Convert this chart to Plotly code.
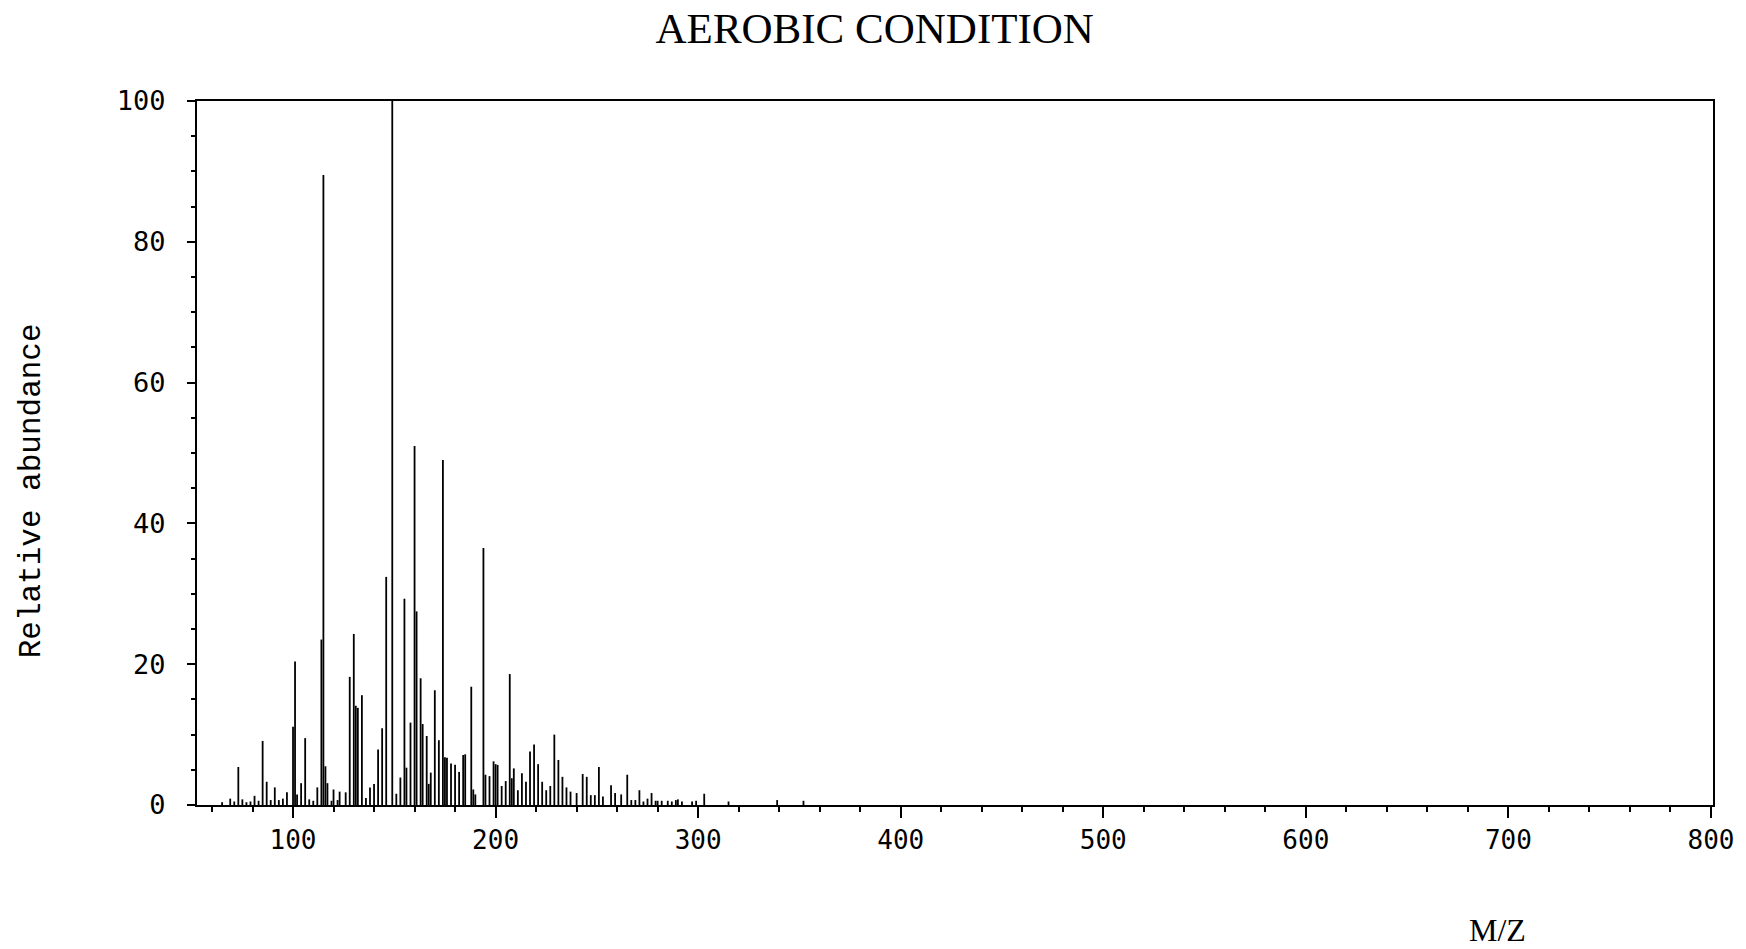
import plotly.graph_objects as go

# ---- data ----
mz = [65, 69, 71, 73, 75, 77, 79, 81, 83, 85, 87, 89, 91, 93, 95, 97,
      100, 101, 102, 104, 106, 108, 110, 112, 114, 115, 116, 117, 119, 120, 122, 123,
      126, 128, 130, 131, 132, 134, 136, 138, 140, 142, 144, 146, 149, 151, 153,
      155, 156, 158, 160, 161, 163, 164, 166, 167, 168, 170, 172, 174, 175, 176,
      178, 180, 182, 184, 185, 188, 189, 190, 194, 195, 197, 199, 200, 201, 203,
      205, 207, 208, 209, 211, 213, 215, 217, 219, 221, 223, 225, 227, 229, 231,
      233, 235, 237, 240, 243, 245, 247, 249, 251, 253, 257, 259, 262, 265, 267,
      269, 271, 273, 275, 277, 279, 280, 282, 285, 287, 289, 290, 292, 297, 299,
      303, 315, 339, 352]
abundance = [0.4, 0.9, 0.5, 5.4, 0.8, 0.4, 0.5, 1.3, 0.6, 9.1, 3.3, 0.7, 2.5, 0.7, 0.9, 1.8,
             11.1, 20.4, 1.5, 3.1, 9.5, 0.8, 0.6, 2.5, 23.5, 89.5, 5.5, 3.1, 0.6, 2.2, 0.7, 1.9,
             1.8, 18.2, 24.3, 14.1, 13.8, 15.6, 1.0, 2.5, 3.0, 7.9, 10.9, 32.4, 100.0, 1.6, 3.9,
             29.3, 5.3, 11.7, 51.0, 27.5, 18.0, 11.5, 9.8, 3.0, 4.6, 16.3, 9.2, 49.0, 6.8, 6.7,
             5.9, 5.7, 4.7, 7.1, 7.2, 16.8, 2.2, 1.5, 36.5, 4.3, 4.1, 6.2, 5.8, 5.7, 2.7,
             3.4, 18.6, 3.8, 5.2, 2.1, 4.5, 3.3, 7.6, 8.6, 5.8, 3.3, 2.1, 2.7, 10.0, 6.4,
             4.0, 2.5, 1.9, 1.7, 4.4, 4.0, 1.4, 1.4, 5.4, 1.2, 2.8, 1.7, 1.5, 4.3, 0.7,
             0.7, 2.1, 0.5, 0.9, 1.7, 0.6, 0.6, 0.6, 0.6, 0.5, 0.7, 0.8, 0.5, 0.5, 0.6,
             1.6, 0.5, 0.7, 0.6]

x_ticks = [100, 200, 300, 400, 500, 600, 700, 800]
y_ticks = [0, 20, 40, 60, 80, 100]

title_text = "AEROBIC CONDITION"
x_label = "M/Z"
y_label = "Relative abundance"

# ---- build stick spectrum (one segment per peak) ----
xs, ys = [], []
for m, a in zip(mz, abundance):
    xs += [m, m, None]
    ys += [0, a, None]

fig = go.Figure()
fig.add_trace(go.Scatter(x=xs, y=ys, mode="lines",
                         line=dict(color="black", width=1.8),
                         hoverinfo="skip", showlegend=False))

tick_font = dict(family="DejaVu Sans Mono", size=26, color="black")

fig.update_layout(
    width=1746, height=949,
    paper_bgcolor="white", plot_bgcolor="white",
    margin=dict(l=197, r=33, t=101, b=144),
    title=dict(text=title_text, x=0.501, xanchor="center", y=0.971, yanchor="middle",
               font=dict(family="Liberation Serif", size=43, color="black")),
    showlegend=False,
)

fig.update_xaxes(
    range=[52.6, 801], tickmode="array", tickvals=x_ticks,
    ticktext=[str(v) for v in x_ticks],
    showgrid=False, zeroline=False,
    showline=True, linecolor="black", linewidth=2, mirror=True,
    ticks="outside", ticklen=11, tickwidth=2, tickcolor="black",
    tickfont=tick_font,
    minor=dict(dtick=20, tick0=0, ticks="outside", ticklen=5, tickwidth=1.5,
               tickcolor="black", showgrid=False),
)
fig.update_yaxes(
    range=[0, 100], tickmode="array", tickvals=y_ticks,
    ticktext=[str(v) for v in y_ticks],
    showgrid=False, zeroline=False,
    showline=True, linecolor="black", linewidth=2, mirror=True,
    ticks="outside", ticklen=8, tickwidth=2, tickcolor="black",
    ticklabelstandoff=16,
    tickfont=dict(family="DejaVu Sans Mono", size=27, color="black"),
    minor=dict(dtick=5, tick0=0, ticks="outside", ticklen=4, tickwidth=1.5,
               tickcolor="black", showgrid=False),
)

fig.add_annotation(text=y_label, xref="paper", yref="paper",
                   x=-0.1095, y=0.447, xanchor="center", yanchor="middle",
                   textangle=-90, showarrow=False,
                   font=dict(family="Liberation Mono", size=31, color="black"))
fig.add_annotation(text=x_label, xref="paper", yref="paper",
                   x=0.858, y=-0.1776, xanchor="center", yanchor="middle",
                   showarrow=False,
                   font=dict(family="Liberation Serif", size=32, color="black"))

# remove the default page margin so the figure fills the 1746x949 window exactly
fig.write_html("out.html", config={"displayModeBar": False},
               post_script="document.body.style.margin='0px';"
                           "document.body.style.overflow='hidden';")
